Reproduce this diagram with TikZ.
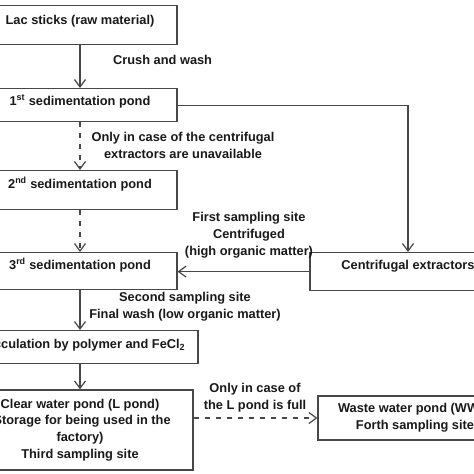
\documentclass[tikz,border=0pt]{standalone}
\usepackage{fontspec}
\setmainfont{Liberation Sans}
\usetikzlibrary{arrows.meta}
\definecolor{linegray}{gray}{0.28}
\begin{document}
\begin{tikzpicture}[x=1pt,y=-1pt,
  every node/.style={font=\bfseries\fontsize{12.8}{16.8}\selectfont, text=black!90},
  box/.style={draw=linegray, line width=1.2pt, rectangle, inner xsep=0pt, inner ysep=0pt, align=center},
  onebox/.style 2 args={box, anchor=north, text height=#1, text depth=#2},
  lbl/.style={align=center, inner sep=0pt},
  arr/.style={draw=linegray, line width=1.2pt, -{Straight Barb[length=7.5pt,width=11pt]}},
  dashline/.style={dash pattern=on 5pt off 6pt}
]
\useasboundingbox (0,0) rectangle (474,474);
\fill[white] (0,0) rectangle (474,474);
\clip (0,0) rectangle (474,474);

\node[onebox={18.5pt}{20.5pt}, minimum width=194pt] (lac) at (80,5) {Lac sticks (raw material)};
\node[onebox={16.5pt}{16.5pt}, minimum width=194pt] (p1) at (80,88) {1\textsuperscript{st} sedimentation pond};
\node[onebox={17.5pt}{21.5pt}, minimum width=194pt] (p2) at (80,170) {2\textsuperscript{nd} sedimentation pond};
\node[onebox={16.5pt}{20.5pt}, minimum width=194pt] (p3) at (80,252) {3\textsuperscript{rd} sedimentation pond};
\node[onebox={16.5pt}{21.5pt}, minimum width=196pt] (cent) at (408,252) {Centrifugal extractors};
\node[onebox={17.5pt}{15.5pt}, minimum width=236pt] (floc) at (80,330) {Flocculation by polymer and FeCl\textsubscript{2}};
\node[box, minimum width=226pt, minimum height=80pt] (clear) at (80,430) {Clear water pond (L pond)\\(Storage for being used in the\\factory)\\Third sampling site};
\node[box, minimum width=194pt, minimum height=44pt] (waste) at (415,418) {Waste water pond (WWP)\\Forth sampling site};

\node[lbl, anchor=west] (crush) at (113,60) {Crush and wash};
\node[lbl] (only1) at (183,145.5) {Only in case of the centrifugal\\extractors are unavailable};
\node[lbl] (first) at (249,235) {First sampling site\\Centrifuged\\(high organic matter)};
\node[lbl] (second) at (185,307) {Second sampling site\\Final wash (low organic matter)};
\node[lbl] (only2) at (255,398) {Only in case of\\the L pond is full};

\draw[arr] (lac) -- (p1);
\draw[arr, dashline] (p1) -- (p2);
\draw[arr, dashline] (p2) -- (p3);
\draw[arr] (p1.east) -| (cent.north);
\draw[arr] (cent.west) -- (cent.west -| p3.east);
\draw[arr] (p3) -- (floc);
\draw[arr] (floc) -- (clear);
\draw[arr, dashline] (clear.east |- waste.west) -- (waste.west);
\end{tikzpicture}
\end{document}
